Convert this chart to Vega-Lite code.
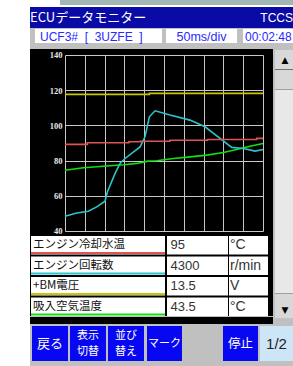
{
"$schema": "https://vega.github.io/schema/vega-lite/v6.json",
"background": "#c0c0c0",
"padding": 0,
"spacing": 0,
"config": {"view": {"stroke": null}, "font": "Noto Sans CJK JP", "concat": {"spacing": 0}},
"datasets": {
 "lines": [
  {"s": "エンジン冷却水温", "t": 0, "v": 89.2},
  {"s": "エンジン冷却水温", "t": 1.13, "v": 90.1},
  {"s": "エンジン冷却水温", "t": 3.23, "v": 90.7},
  {"s": "エンジン冷却水温", "t": 3.8, "v": 91.0},
  {"s": "エンジン冷却水温", "t": 5.3, "v": 91.6},
  {"s": "エンジン冷却水温", "t": 7.2, "v": 92.0},
  {"s": "エンジン冷却水温", "t": 9.68, "v": 92.6},
  {"s": "エンジン冷却水温", "t": 10, "v": 92.6},
  {"s": "+BM電圧", "t": 0, "v": 117.6},
  {"s": "+BM電圧", "t": 4.26, "v": 118.2},
  {"s": "+BM電圧", "t": 10, "v": 118.2},
  {"s": "吸入空気温度", "t": 0, "v": 74.5},
  {"s": "吸入空気温度", "t": 0.93, "v": 75.9},
  {"s": "吸入空気温度", "t": 1.93, "v": 76.8},
  {"s": "吸入空気温度", "t": 2.98, "v": 77.6},
  {"s": "吸入空気温度", "t": 3.62, "v": 78.4},
  {"s": "吸入空気温度", "t": 4.2, "v": 79.7},
  {"s": "吸入空気温度", "t": 4.63, "v": 79.9},
  {"s": "吸入空気温度", "t": 5.47, "v": 81.2},
  {"s": "吸入空気温度", "t": 6.31, "v": 82.1},
  {"s": "吸入空気温度", "t": 7.16, "v": 83.1},
  {"s": "吸入空気温度", "t": 8.0, "v": 84.6},
  {"s": "吸入空気温度", "t": 8.67, "v": 86.3},
  {"s": "吸入空気温度", "t": 9.34, "v": 88.2},
  {"s": "吸入空気温度", "t": 10, "v": 89.7},
  {"s": "エンジン回転数", "t": 0, "v": 48.4},
  {"s": "エンジン回転数", "t": 0.59, "v": 50.2},
  {"s": "エンジン回転数", "t": 1.18, "v": 51.2},
  {"s": "エンジン回転数", "t": 1.6, "v": 53.7},
  {"s": "エンジン回転数", "t": 2.02, "v": 56.9},
  {"s": "エンジン回転数", "t": 2.14, "v": 62.2},
  {"s": "エンジン回転数", "t": 2.53, "v": 72.7},
  {"s": "エンジン回転数", "t": 2.78, "v": 78.4},
  {"s": "エンジン回転数", "t": 3.03, "v": 81.2},
  {"s": "エンジン回転数", "t": 3.79, "v": 87.8},
  {"s": "エンジン回転数", "t": 4.04, "v": 93.5},
  {"s": "エンジン回転数", "t": 4.26, "v": 104.9},
  {"s": "エンジン回転数", "t": 4.55, "v": 108.3},
  {"s": "エンジン回転数", "t": 5.3, "v": 105.9},
  {"s": "エンジン回転数", "t": 6.31, "v": 103.0},
  {"s": "エンジン回転数", "t": 7.07, "v": 99.2},
  {"s": "エンジン回転数", "t": 7.83, "v": 92.6},
  {"s": "エンジン回転数", "t": 8.42, "v": 87.5},
  {"s": "エンジン回転数", "t": 9.0, "v": 86.9},
  {"s": "エンジン回転数", "t": 9.6, "v": 85.4},
  {"s": "エンジン回転数", "t": 10, "v": 86.3}
 ],
 "table": [
  {"name": "エンジン冷却水温", "value": "95", "unit": "°C"},
  {"name": "エンジン回転数", "value": "4300", "unit": "r/min"},
  {"name": "+BM電圧", "value": "13.5", "unit": "V"},
  {"name": "吸入空気温度", "value": "43.5", "unit": "°C"}
 ]
},
"hconcat": [
 {"width": 30, "height": 366, "data": {"values": []}, "mark": "text", "view": {"fill": "white"}},
 {"spacing": 0, "vconcat": [
  {"spacing": 0, "hconcat": [
   {"width": 30, "height": 7, "data": {"values": []}, "mark": "text", "view": {"fill": "white"}},
   {"spacing": 0, "vconcat": [
    {"width": 233, "height": 5, "data": {"values": []}, "mark": "text", "view": {"fill": "#a3b6b6"}},
    {"width": 233, "height": 2, "data": {"values": []}, "mark": "text", "view": {"fill": "white"}}
   ]}
  ]},
  {"width": 263, "height": 21, "data": {"values": [{}]}, "view": {"fill": "#0a0aa6"}, "layer": [
   {"mark": {"type": "text", "text": "ECUデータモニター", "x": 0, "align": "left", "color": "white", "fontSize": 13}},
   {"mark": {"type": "text", "text": "TCCS", "x": "width", "align": "right", "color": "white", "fontSize": 12, "font": "Liberation Sans"}}
  ]},
  {"spacing": 0, "vconcat": [
   {"width": 263, "height": 1, "data": {"values": []}, "mark": "text"},
   {"spacing": 0, "hconcat": [
    {"width": 5, "height": 14, "data": {"values": []}, "mark": "text"},
    {"width": 127, "height": 14, "data": {"values": [{}]}, "view": {"fill": "white"}, "mark": {"type": "text", "text": "UCF3#\u00a0\u00a0[\u00a0\u00a03UZFE\u00a0\u00a0]", "x": 0, "dx": 5, "dy": 0.5, "align": "left", "color": "#2a2aff", "fontSize": 12, "font": "Liberation Sans"}},
    {"width": 4, "height": 14, "data": {"values": []}, "mark": "text"},
    {"width": 71, "height": 14, "data": {"values": [{}]}, "view": {"fill": "white"}, "mark": {"type": "text", "text": "50ms/div", "dy": 0.5, "color": "#2a2aff", "fontSize": 12.5, "font": "Liberation Sans"}},
    {"width": 6, "height": 14, "data": {"values": []}, "mark": "text"},
    {"width": 50, "height": 14, "data": {"values": [{}]}, "view": {"fill": "white"}, "mark": {"type": "text", "text": "00:02:48", "x": 0, "dx": 2, "dy": 0.5, "align": "left", "color": "#2a2aff", "fontSize": 12, "font": "Liberation Sans"}}
   ]},
   {"width": 263, "height": 6, "data": {"values": []}, "mark": "text"}
  ]},
  {"spacing": 0, "hconcat": [
   {"spacing": 0, "vconcat": [
    {"width": 243, "height": 187, "data": {"name": "lines"}, "view": {"fill": "black"},
     "encoding": {
      "x": {"field": "t", "type": "quantitative", "scale": {"domain": [-1.76768, 10.50505], "nice": false, "zero": false},
            "axis": {"orient": "bottom", "offset": -181, "values": [0,1,2,3,4,5,6,7,8,9,10], "labels": false, "ticks": true, "tickSize": 176, "tickColor": "#c8c8c8", "tickWidth": 1, "domain": false, "grid": false, "title": null, "minExtent": 0, "maxExtent": 400}},
      "y": {"field": "v", "type": "quantitative", "scale": {"domain": [37.159, 143.409], "nice": false, "zero": false},
            "axis": {"orient": "left", "offset": -233, "values": [40,60,80,100,120,140], "ticks": true, "tickSize": 198, "tickColor": "#c8c8c8", "tickWidth": 1, "domain": false, "grid": false, "title": null, "labelColor": "#e8e8e8", "labelFont": "Liberation Serif", "labelFontSize": 8.5, "labelFontWeight": "bold", "labelPadding": 3, "labelFlush": false, "labelOverlap": false, "minExtent": 0, "maxExtent": 400}},
      "color": {"field": "s", "type": "nominal", "scale": {"domain": ["エンジン冷却水温", "エンジン回転数", "+BM電圧", "吸入空気温度"], "range": ["#e05454", "#2cc4cc", "#c8c800", "#10e010"]}, "legend": null}
     },
     "layer": [
      {"transform": [{"filter": "datum.s === 'エンジン回転数' || datum.s === '吸入空気温度'"}], "mark": {"type": "line", "strokeWidth": 1.6, "interpolate": "linear"}},
      {"transform": [{"filter": "datum.s === 'エンジン冷却水温' || datum.s === '+BM電圧'"}], "mark": {"type": "line", "strokeWidth": 1.6, "interpolate": "step-after"}}
     ]
    },
    {"spacing": 0, "vconcat": [
     {"spacing": 0, "hconcat": [
      {"width": 1, "height": 80, "data": {"values": []}, "mark": "text", "view": {"fill": "black"}},
      {"width": 134, "height": 80, "data": {"name": "table"}, "view": {"fill": "black"},
       "encoding": {"y": {"field": "name", "type": "nominal", "sort": null, "axis": null, "scale": {"paddingInner": 0.1, "paddingOuter": 0}}},
       "layer": [
        {"mark": {"type": "rect", "color": "white"}},
        {"mark": {"type": "rule", "strokeWidth": 2, "yOffset": -1.5, "clip": true},
         "encoding": {"y": {"field": "name", "type": "nominal", "sort": null, "axis": null, "bandPosition": 1},
                      "color": {"field": "name", "type": "nominal", "scale": {"domain": ["エンジン冷却水温", "エンジン回転数", "+BM電圧", "吸入空気温度"], "range": ["#ff7c7c", "#40e0f0", "#f0f040", "#40e040"]}, "legend": null}}},
        {"mark": {"type": "text", "x": 0, "dx": 2, "dy": 0, "align": "left", "fontSize": 11.5, "color": "#111111"}, "encoding": {"text": {"field": "name"}}}
       ]},
      {"width": 2, "height": 80, "data": {"values": []}, "mark": "text", "view": {"fill": "black"}},
      {"width": 61, "height": 80, "data": {"name": "table"}, "view": {"fill": "black"},
       "encoding": {"y": {"field": "name", "type": "nominal", "sort": null, "axis": null, "scale": {"paddingInner": 0.1, "paddingOuter": 0}}},
       "layer": [
        {"mark": {"type": "rect", "color": "white"}},
        {"mark": {"type": "text", "x": 0, "dx": 3.5, "align": "left", "fontSize": 13, "font": "Liberation Sans", "color": "#333333"}, "encoding": {"text": {"field": "value"}}}
       ]},
      {"width": 1, "height": 80, "data": {"values": []}, "mark": "text", "view": {"fill": "black"}},
      {"width": 39, "height": 80, "data": {"name": "table"}, "view": {"fill": "black"},
       "encoding": {"y": {"field": "name", "type": "nominal", "sort": null, "axis": null, "scale": {"paddingInner": 0.1, "paddingOuter": 0}}},
       "layer": [
        {"mark": {"type": "rect", "color": "white"}},
        {"mark": {"type": "text", "x": 0, "dx": 1, "align": "left", "fontSize": 14, "font": "Liberation Sans", "color": "#333333"}, "encoding": {"text": {"field": "unit"}}}
       ]},
      {"width": 5, "height": 80, "data": {"values": []}, "mark": "text", "view": {"fill": "black"}}
     ]},
     {"width": 243, "height": 7, "data": {"values": []}, "mark": "text", "view": {"fill": "black"}}
    ]}
   ]},
   {"width": 2, "height": 274, "data": {"values": []}, "mark": "text"},
   {"spacing": 0, "vconcat": [
    {"width": 18, "height": 1, "data": {"values": []}, "mark": "text"},
    {"width": 18, "height": 19, "data": {"values": [{}]}, "view": {"fill": "#d8d8d8"}, "mark": {"type": "text", "text": "▲", "fontSize": 9, "dx": 1, "color": "black", "font": "DejaVu Sans"}},
    {"width": 18, "height": 1, "data": {"values": []}, "mark": "text", "view": {"fill": "#707070"}},
    {"width": 18, "height": 19, "data": {"values": []}, "view": {"fill": "#d8d8d8"}, "mark": "text"},
    {"width": 18, "height": 1, "data": {"values": []}, "mark": "text", "view": {"fill": "#a0a0a0"}},
    {"width": 18, "height": 203, "data": {"values": []}, "view": {"fill": "#e8e8e8"}, "mark": "text"},
    {"width": 18, "height": 1, "data": {"values": []}, "mark": "text", "view": {"fill": "#a0a0a0"}},
    {"width": 18, "height": 24, "data": {"values": [{}]}, "view": {"fill": "#d8d8d8"}, "mark": {"type": "text", "text": "▼", "fontSize": 9, "dx": 1, "dy": 4, "color": "black", "font": "DejaVu Sans"}},
    {"width": 18, "height": 5, "data": {"values": []}, "mark": "text"}
   ]}
  ]},
  {"spacing": 0, "vconcat": [
   {"width": 263, "height": 2, "data": {"values": []}, "mark": "text"},
   {"spacing": 0, "hconcat": [
    {"width": 2, "height": 35, "data": {"values": []}, "mark": "text"},
    {"width": 36, "height": 35, "data": {"values": [{}]}, "view": {"fill": "#0707f2"}, "mark": {"type": "text", "text": "戻る", "color": "white", "fontSize": 13}},
    {"width": 2, "height": 35, "data": {"values": []}, "mark": "text"},
    {"width": 36, "height": 35, "data": {"values": [{}]}, "view": {"fill": "#0707f2"}, "layer": [
     {"mark": {"type": "text", "text": "表示", "dy": -8, "color": "white", "fontSize": 11}},
     {"mark": {"type": "text", "text": "切替", "dy": 8, "color": "white", "fontSize": 11}}
    ]},
    {"width": 2, "height": 35, "data": {"values": []}, "mark": "text"},
    {"width": 36, "height": 35, "data": {"values": [{}]}, "view": {"fill": "#0707f2"}, "layer": [
     {"mark": {"type": "text", "text": "並び", "dy": -8, "color": "white", "fontSize": 11}},
     {"mark": {"type": "text", "text": "替え", "dy": 8, "color": "white", "fontSize": 11}}
    ]},
    {"width": 3, "height": 35, "data": {"values": []}, "mark": "text"},
    {"width": 35, "height": 35, "data": {"values": [{}]}, "view": {"fill": "#0707f2"}, "mark": {"type": "text", "text": "マーク", "color": "white", "fontSize": 11}},
    {"width": 41, "height": 35, "data": {"values": []}, "mark": "text"},
    {"width": 35, "height": 35, "data": {"values": [{}]}, "view": {"fill": "#0707f2"}, "mark": {"type": "text", "text": "停止", "color": "white", "fontSize": 12.5}},
    {"width": 2, "height": 35, "data": {"values": []}, "mark": "text"},
    {"width": 33, "height": 35, "data": {"values": [{}]}, "view": {"fill": "#cde6f7"}, "mark": {"type": "text", "text": "1/2", "color": "#222222", "fontSize": 15, "font": "Liberation Sans"}}
   ]},
   {"width": 263, "height": 6, "data": {"values": []}, "mark": "text"}
  ]}
 ]}
]
}
